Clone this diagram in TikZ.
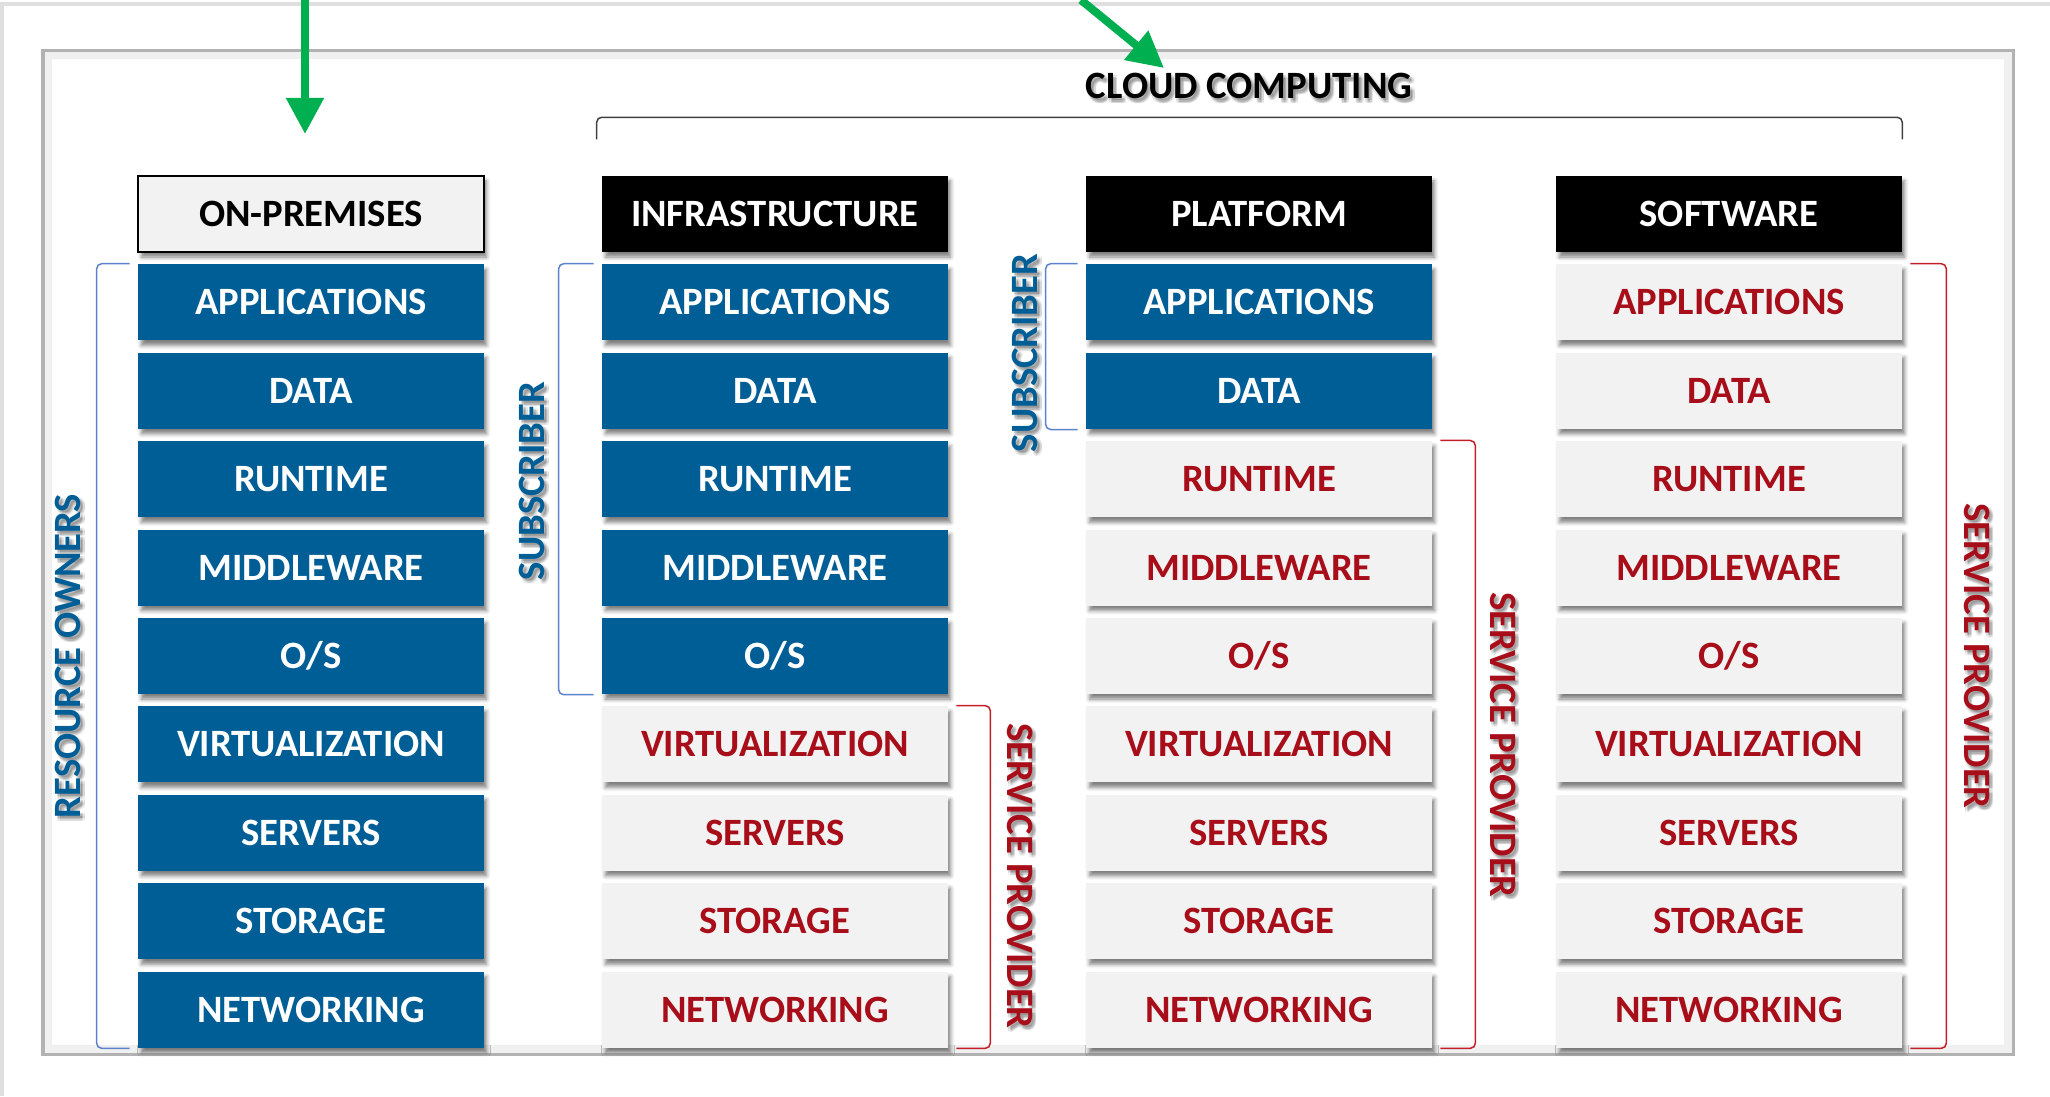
\documentclass[tikz,border=0pt]{standalone}
\usepackage{fontspec}
\setmainfont{Carlito}
\usetikzlibrary{arrows.meta, calc, shadows.blur}

\definecolor{ownblue}{RGB}{0,94,150}
\definecolor{provred}{RGB}{168,14,26}
\definecolor{cellgray}{RGB}{242,242,242}
\definecolor{subline}{RGB}{90,130,205}
\definecolor{provline}{RGB}{195,30,40}
\definecolor{arrowgreen}{RGB}{0,176,80}

\newcommand{\cellfont}{\bfseries\fontsize{11}{13}\selectfont}

\tikzset{
  cell/.style={minimum width=3.45cm, minimum height=0.76cm, inner sep=0pt, font=\cellfont,
    blur shadow={shadow xshift=0.03cm, shadow yshift=-0.05cm, shadow blur radius=0.04cm, shadow opacity=50}},
  own/.style={cell, fill=ownblue, text=white},
  prov/.style={cell, fill=cellgray, text=provred},
  head/.style={cell, fill=black, text=white},
  headlight/.style={cell, fill=cellgray, draw=black, line width=0.02cm, text=black},
  subbrace/.style={draw=subline, line width=0.015cm, rounded corners=0.05cm},
  provbrace/.style={draw=provline, line width=0.015cm, rounded corners=0.05cm},
  cloudbrace/.style={draw=black!75, line width=0.015cm, rounded corners=0.05cm},
  titlelbl/.style={font=\cellfont, text=black},
  sublbl/.style={font=\cellfont, text=ownblue, rotate=90},
  provlbl/.style={font=\cellfont, text=provred, rotate=-90},
  txtshadow/.style={text=black, text opacity=0.055},
  pointer/.style={draw=arrowgreen, line width=0.08cm, -{Triangle[width=0.36cm, length=0.36cm]}},
}

\begin{document}
\begin{tikzpicture}[x=0.01cm, y=-0.01cm]
  \useasboundingbox (0,0) rectangle (2050,1096);

  % frames
  \draw[gray!25, line width=0.04cm] (0,4) -- (2050,4);
  \draw[gray!25, line width=0.04cm] (2,4) -- (2,1096);
  \draw[gray!12, line width=0.08cm] (48,55) rectangle (2008,1049);
  \draw[gray!60, line width=0.03cm] (43,50) rectangle (2013,1054);

  % column heads
  \node[headlight] (head-onprem) at (311,214) {ON-PREMISES};
  \node[head] (head-iaas) at (775,214) {INFRASTRUCTURE};
  \node[head] (head-paas) at (1259,214) {PLATFORM};
  \node[head] (head-saas) at (1729,214) {SOFTWARE};

  % layer stacks, the first \nown layers are managed by the subscriber
  \foreach \stack/\cx/\nown in {onprem/311/9, iaas/775/5, paas/1259/2, saas/1729/0} {
    \foreach \layer [count=\i] in {APPLICATIONS, DATA, RUNTIME, MIDDLEWARE, O{/}S,
                                   VIRTUALIZATION, SERVERS, STORAGE, NETWORKING} {
      \ifnum\i>\nown \def\sty{prov}\else\def\sty{own}\fi
      \node[\sty] (\stack-\i) at (\cx, 214+88.4*\i) {\layer};
    }
  }

  % brackets
  \draw[subbrace] ($(onprem-1.north west)+(-8,0)$) -- ++(-33,0) |- ($(onprem-9.south west)+(-8,0)$);
  \draw[subbrace] ($(iaas-1.north west)+(-8,0)$) -- ++(-35,0) |- ($(iaas-5.south west)+(-8,0)$);
  \draw[subbrace] ($(paas-1.north west)+(-8,0)$) -- ++(-32,0) |- ($(paas-2.south west)+(-8,0)$);
  \draw[provbrace] ($(iaas-6.north east)+(8,0)$) -- ++(34,0) |- ($(iaas-9.south east)+(8,0)$);
  \draw[provbrace] ($(paas-3.north east)+(8,0)$) -- ++(35,0) |- ($(paas-9.south east)+(8,0)$);
  \draw[provbrace] ($(saas-1.north east)+(8,0)$) -- ++(36,0) |- ($(saas-9.south east)+(8,0)$);

  % side labels and title, each over a soft shadow
  \foreach \lname/\lstyle/\lpos/\ltext in {
      owners/sublbl/{68,656}/RESOURCE OWNERS,
      iaas-sub/sublbl/{532,481}/SUBSCRIBER,
      paas-sub/sublbl/{1025,353}/SUBSCRIBER,
      iaas-prov/provlbl/{1020,876}/SERVICE PROVIDER,
      paas-prov/provlbl/{1503,745}/SERVICE PROVIDER,
      saas-prov/provlbl/{1977,656}/SERVICE PROVIDER,
      cloud/titlelbl/{1249,86}/CLOUD COMPUTING} {
    \foreach \dx in {1.5,3,4.5}
      \foreach \dy in {2,3.5,5}
        \node[\lstyle, txtshadow] at ($(\lpos)+(\dx,\dy)$) {\ltext};
    \node[\lstyle] (\lname) at (\lpos) {\ltext};
  }

  % bracket over the cloud columns
  \draw[cloudbrace] ($(head-iaas.north west)+(-5,-36)$) |- ($(head-saas.north east)+(0,-58)$)
    -- ($(head-saas.north east)+(0,-36)$);

  % green pointers
  \coordinate (onprem-tail) at (305,0);
  \coordinate (cloud-tail) at (1081,0);
  \coordinate (cloud-tip) at (1164,68);
  \draw[pointer] (onprem-tail) -- ($(head-onprem.north)+(-6,-41)$);
  \draw[pointer] (cloud-tail) -- (cloud-tip);
\end{tikzpicture}
\end{document}
